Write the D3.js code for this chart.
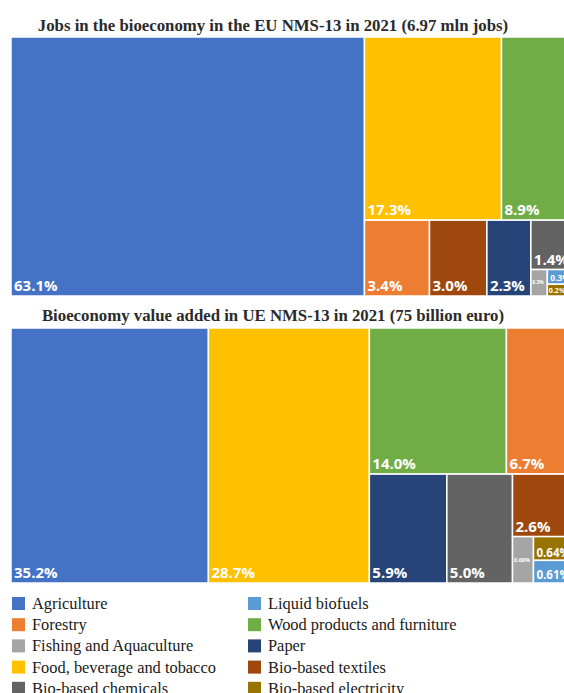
<!DOCTYPE html>
<html><head><meta charset="utf-8">
<script src="https://cdn.jsdelivr.net/npm/d3@7"></script>
<style>html,body{margin:0;padding:0;background:#fff;overflow:hidden}
.serif{font-family:"Liberation Serif","Times New Roman",Tinos,"DejaVu Serif",serif}</style>
</head><body><svg id="chart" width="564" height="693"></svg>
<script>
// ---- data ----
const categories = ["Agriculture","Forestry","Fishing and Aquaculture","Food, beverage and tobacco","Bio-based chemicals",
  "Liquid biofuels","Wood products and furniture","Paper","Bio-based textiles","Bio-based electricity"];
const colors = ["#4472C4","#ED7D31","#A5A5A5","#FFC000","#636363","#5B9BD5","#70AD47","#264478","#9E480E","#997300"];
// share of jobs (%) in the bioeconomy, EU NMS-13, 2021
const jobsShare = [63.1, 3.4, 0.3, 17.3, 1.4, 0.25, 8.9, 2.3, 3.0, 0.2];
// share of value added (%), EU NMS-13, 2021
const valueAddedShare = [35.2, 6.7, 0.68, 28.7, 5.0, 0.61, 14.0, 5.9, 2.6, 0.64];
const titles = ["Jobs in the bioeconomy in the EU NMS-13 in 2021 (6.97 mln jobs)",
  "Bioeconomy value added in UE NMS-13 in 2021 (75 billion euro)"];
// how many tiles go into each successive strip of the layout (Excel-like tiling)
const jobsStrips = [1,2,1,1,1,1,1,1,1];
const valueStrips = [1,1,2,1,1,1,1,1,1];

const svg = d3.select("#chart");

function stripTile(strips) {
  return function(parent, x0, y0, x1, y1) {
    const nodes = parent.children;
    let value = parent.value, i = 0;
    for (const n of strips) {
      const kids = nodes.slice(i, i + n);
      if (!kids.length) break;
      const row = {children: kids, value: d3.sum(kids, d => d.value)};
      const dx = x1 - x0, dy = y1 - y0;
      if (dx < dy) {
        const yy = y0 + dy * row.value / value;
        d3.treemapDice(row, x0, y0, x1, yy); y0 = yy;
      } else {
        const xx = x0 + dx * row.value / value;
        d3.treemapSlice(row, x0, y0, xx, y1); x0 = xx;
      }
      value -= row.value; i += n;
    }
  };
}

function drawTreemap(values, strips, fmt, tx, ty, w, h, title, titleY) {
  svg.append("text").attr("class", "serif").attr("x", 273).attr("y", titleY).attr("text-anchor", "middle")
    .attr("font-weight", "bold")
    .attr("font-size", 16.8).attr("fill", "#2b2b2b").text(title);
  const data = {children: categories.map((c, i) => ({name: c, color: colors[i], value: values[i]}))};
  const root = d3.hierarchy(data).sum(d => d.value || 0).sort((a, b) => b.value - a.value);
  d3.treemap().size([w, h]).tile(stripTile(strips))(root);
  const g = svg.append("g").attr("transform", `translate(${tx},${ty})`);
  const leaves = g.selectAll("g").data(root.leaves()).join("g");
  leaves.append("rect")
    .attr("x", d => d.x0).attr("y", d => d.y0)
    .attr("width", d => d.x1 - d.x0).attr("height", d => d.y1 - d.y0)
    .attr("fill", d => d.data.color).attr("stroke", "#fff").attr("stroke-width", 1.5);
  leaves.each(function(d) {
    const base = 15;
    const t = d3.select(this).append("text")
      .attr("font-family", "'Open Sans',sans-serif").attr("font-weight", "bold")
      .attr("font-size", base).attr("fill", "#fff").text(fmt(d.data.value) + "%");
    const tw = t.node().getComputedTextLength();
    const tw0 = d.x1 - d.x0, th = d.y1 - d.y0;
    let fs = base;
    if (tw > tw0 - 5) fs = base * (tw0 - 5) / tw;
    fs = Math.min(fs, th * 0.6);
    t.attr("font-size", fs);
    if (fs >= 8) {
      t.attr("x", d.x0 + 3).attr("y", d.y1 - 5 * fs / base);
    } else {
      t.attr("x", d.x0 + 1.5).attr("y", (d.y0 + d.y1) / 2 + fs * 0.35);
    }
  });
}

drawTreemap(jobsShare, jobsStrips, v => d3.format(".1f")(v), 11, 37, 561, 259, titles[0], 31);
drawTreemap(valueAddedShare, valueStrips, v => d3.format(v < 1 ? ".2f" : ".1f")(v), 11, 328, 561, 255, titles[1], 321);

// ---- legend ----
const leftCol = [0, 1, 2, 3, 4], rightCol = [5, 6, 7, 8, 9];
const legend = svg.append("g");
[[leftCol, 12, 32], [rightCol, 248, 268]].forEach(([idx, sx, tx]) => {
  idx.forEach((ci, r) => {
    const y = 597 + r * 21.2;
    legend.append("rect").attr("x", sx).attr("y", y).attr("width", 13).attr("height", 13).attr("fill", colors[ci]);
    legend.append("text").attr("class", "serif").attr("x", tx).attr("y", y + 12)
      .attr("font-size", 16.4)
      .attr("fill", "#1a1a1a").text(categories[ci]);
  });
});
</script></body></html>
